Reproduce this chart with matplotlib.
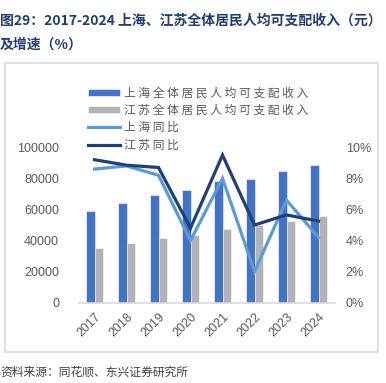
import matplotlib
matplotlib.use("Agg")
import matplotlib.pyplot as plt
import numpy as np
from matplotlib.patches import Rectangle

plt.rcParams['font.family'] = ['Noto Sans CJK SC', 'DejaVu Sans']

years = ['2017', '2018', '2019', '2020', '2021', '2022', '2023', '2024']
sh_income = [58988, 64183, 69442, 72232, 78027, 79610, 84834, 88366]
js_income = [35024, 38096, 41400, 43390, 47498, 49862, 52674, 55500]
sh_yoy = [8.6, 8.8, 8.2, 4.0, 8.0, 2.0, 6.6, 4.2]
js_yoy = [9.2, 8.85, 8.7, 4.8, 9.5, 5.0, 5.65, 5.25]

legend_labels = ['上海全体居民人均可支配收入', '江苏全体居民人均可支配收入', '上海同比', '江苏同比']

W, H = 386, 383
fig = plt.figure(figsize=(W / 100, H / 100), dpi=100)


def fx(px):
    return px / W


def fy(py):
    return 1 - py / H


# outer frame of the chart area
fig.patches.append(Rectangle((fx(5), fy(352)), fx(373), (352 - 63) / H, transform=fig.transFigure,
                             fill=False, edgecolor='#D9D9D9', linewidth=1.2))

ax = fig.add_axes([fx(78.5), fy(302.7), fx(334.5) - fx(78.5), (302.7 - 147.3) / H])
ax2 = ax.twinx()

x = np.arange(len(years))
w = 0.27
b1 = ax.bar(x - w / 2, sh_income, w, color='#4472C4', edgecolor='white', linewidth=0.4, zorder=2)
b2 = ax.bar(x + w / 2, js_income, w, color='#B3B3B3', edgecolor='white', linewidth=0.4, zorder=2)
l1, = ax2.plot(x, np.array(sh_yoy) / 100, color='#5B9BD5', linewidth=2.3, solid_joinstyle='miter')
l2, = ax2.plot(x, np.array(js_yoy) / 100, color='#203F77', linewidth=2.3, solid_joinstyle='miter')

ax.set_xlim(-0.5, len(years) - 0.5)
ax.set_ylim(0, 100000)
ax.set_yticks(range(0, 100001, 20000))
ax2.set_ylim(0, 0.10)
ax2.set_yticks(np.arange(0, 0.101, 0.02))
ax2.set_yticklabels([f'{int(round(v * 100))}%' for v in np.arange(0, 0.101, 0.02)])

ax.set_xticks(x)
ax.set_xticklabels(years, rotation=45, ha='right', rotation_mode='anchor')

for a in (ax, ax2):
    for s in ('top', 'left', 'right', 'bottom'):
        a.spines[s].set_visible(False)
ax.spines['bottom'].set_visible(True)
ax.spines['bottom'].set_color('#D9D9D9')
ax.spines['bottom'].set_linewidth(1.2)

tick_family = ['Liberation Sans', 'DejaVu Sans']
ax.tick_params(axis='y', length=0, pad=14, labelcolor='#595959')
ax.tick_params(axis='x', length=0, pad=6, labelcolor='#595959')
ax2.tick_params(axis='y', length=0, pad=8, labelcolor='#595959')
for lab in ax.get_yticklabels() + ax.get_xticklabels() + ax2.get_yticklabels():
    lab.set_fontfamily(tick_family)
    lab.set_fontsize(9)

spaced = [' '.join(s) for s in legend_labels]
leg = fig.legend([b1, b2, l1, l2], spaced, loc='upper left', bbox_to_anchor=(fx(81.7), fy(81)),
                 frameon=False, borderpad=0, handlelength=2.77, handleheight=0.5, handletextpad=0.3,
                 labelspacing=0.35, prop={'family': ['Noto Sans CJK SC', 'DejaVu Sans'], 'size': 8.5})
for t in leg.get_texts():
    t.set_color('#595959')

fig.text(0, fy(20), '图29：2017-2024 上海、江苏全体居民人均可支配收入（元）', fontsize=10,
         fontweight='bold', color='#1F3F73', va='center', ha='left')
fig.text(0, fy(45), '及增速（%）', fontsize=10, fontweight='bold', color='#1F3F73', va='center', ha='left')
fig.text(0, fy(372), '资料来源：同花顺、东兴证券研究所', fontsize=8.5, color='#404040', va='center', ha='left')

fig.savefig('out.png', dpi=100, facecolor='white')
